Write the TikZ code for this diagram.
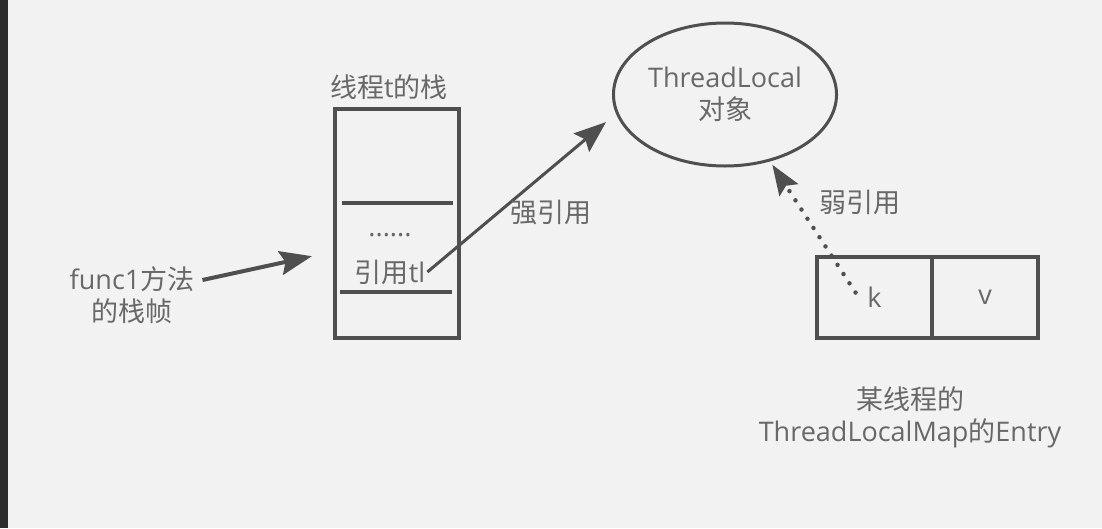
\documentclass[tikz,border=0pt]{standalone}
\usepackage{fontspec}
\setmainfont{Open Sans}
\newfontfamily\zhfont{Noto Sans CJK SC}
\newcommand{\zh}[1]{{\zhfont #1}}
\usepackage{tikz}
\usetikzlibrary{arrows.meta,positioning,shapes.geometric,calc}
\definecolor{bggray}{HTML}{F2F2F2}
\definecolor{edgegray}{HTML}{2D2D2D}
\definecolor{linegray}{HTML}{4F4F4F}
\definecolor{textgray}{HTML}{686868}

\begin{document}
\begin{tikzpicture}[
  x=1pt, y=-1pt,
  font=\fontsize{27}{32}\selectfont,
  every node/.style={align=center, text=textgray, inner sep=2pt},
  box/.style={draw=linegray, line width=3.2pt, inner sep=0pt},
  obj/.style={ellipse, draw=linegray, line width=3pt, minimum width=216pt,
              minimum height=143pt},
  cell/.style={draw=linegray, line width=3.4pt, minimum height=81pt, inner sep=0pt,
               outer sep=0pt},
  sep/.style={draw=linegray, line width=3.2pt},
  fl/.style={-{Stealth[length=32pt,width=24pt,inset=5pt]}, draw=linegray,
             line width=3pt},
  wk/.style={-{Stealth[length=30pt,width=22pt,inset=5pt]}, draw=linegray,
             line width=4.5pt, dash pattern=on 0pt off 11pt, line cap=round},
]

% ---------- page ----------
\fill[bggray] (0,0) rectangle (1102,528);
\fill[edgegray] (0,0) rectangle (8,528);

% ---------- stack of thread t ----------
\node (title) at (389,87) {\zh{线程}t\zh{的栈}};
\node[box, minimum width=124pt, minimum height=229pt] (stack) at (397,223.5) {};
\draw[sep] (342,203) -- (453,203);
\draw[sep] (340,292) -- (452,292);
\node[anchor=base] (dots) at (390,236) {......};
\node (ref) at (390,272) {\zh{引用}tl};

\node (func) at (132,295) {func1\zh{方法}\\\zh{的栈帧}};
\draw[fl, line width=4pt, shorten >=22pt]
  ([shift={(6pt,15pt)}]func.east) -- ([yshift=-28pt]stack.west);

% ---------- the ThreadLocal object ----------
\node[obj] (obj) at (725,94.5) {ThreadLocal\\\zh{对象}};
\draw[fl, shorten >=13pt] (ref.east) -- (obj.190);
\node (strongl) at (551,212) {\zh{强引用}};

% ---------- entry of a ThreadLocalMap ----------
\node[cell, minimum width=115pt] (key) at (874.5,297.5) {k};
\node[cell, minimum width=106pt, right=0pt of key] (val) {v};
\draw[wk, shorten >=4pt] ($(key.center)+(-19,-5)$) -- (obj.-56);
\node (weakl) at (860,202) {\zh{弱引用}};

\node (entryl) at (910,417) {\zh{某线程的}\\ThreadLocalMap\zh{的}Entry};
\end{tikzpicture}
\end{document}
